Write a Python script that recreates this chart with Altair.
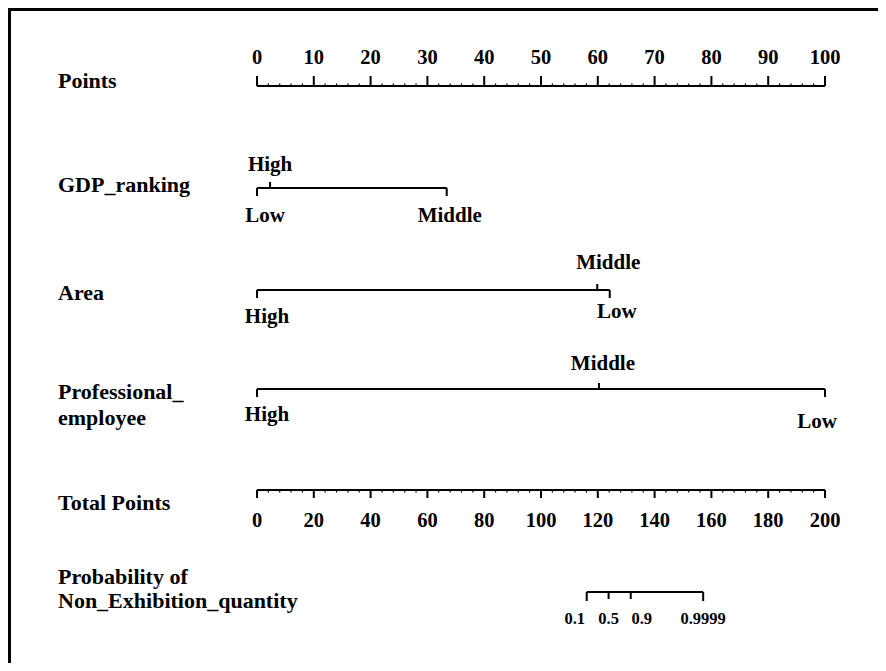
import altair as alt
import pandas as pd

# ---------------- data ----------------
POINTS_TICKS = [0, 10, 20, 30, 40, 50, 60, 70, 80, 90, 100]
TOTAL_TICKS = [0, 20, 40, 60, 80, 100, 120, 140, 160, 180, 200]

GDP_CATS = ["Low", "High", "Middle"]
GDP_PTS = [0, 2.3, 33.4]

AREA_CATS = ["High", "Middle", "Low"]
AREA_PTS = [0, 59.9, 62.1]

PROF_CATS = ["High", "Middle", "Low"]
PROF_PTS = [0, 60.2, 100]

PROB_LABELS = ["0.1", "0.5", "0.9", "0.9999"]
PROB_TOTAL = [116.1, 123.8, 131.6, 157.1]

ROW_LABELS = ["Points", "GDP_ranking", "Area", "Professional_", "employee",
              "Total Points", "Probability of", "Non_Exhibition_quantity"]

# ---------------- layout ----------------
W, H = 870, 655
X0, X1 = 249, 817
FONT = "Liberation Serif"
ROW_LABEL_Y = [73, 177, 285, 384, 410, 495, 569, 593]

POINTS_LINE_Y = 78
TOTAL_LINE_Y = 482
PROB_LINE_Y = 584

# (line y, {category: (dx, label y)})
CAT_LAYOUT = {
    "GDP": (180, {"Low": (8, 208), "High": (0, 157), "Middle": (3, 208)}),
    "Area": (282, {"High": (10, 309), "Middle": (11, 255), "Low": (7, 304)}),
    "Prof": (381, {"High": (10, 407), "Middle": (4, 356), "Low": (-8, 414)}),
}
PROB_DX = {"0.1": -12, "0.5": 0, "0.9": 11, "0.9999": 0}


def pscale():
    return alt.Scale(domain=[0, 100], range=[X0, X1], zero=False, nice=False)


def tscale():
    return alt.Scale(domain=[0, 200], range=[X0, X1], zero=False, nice=False)


def hline(a, b, y, scale, sw=2):
    df = pd.DataFrame({"a": [a], "b": [b]})
    return alt.Chart(df).mark_rule(color="black", strokeWidth=sw).encode(
        x=alt.X("a:Q", scale=scale, axis=None),
        x2="b:Q",
        y=alt.value(y),
    )


def ticks(values, y1, y2, scale, sw=2):
    df = pd.DataFrame({"v": values})
    return alt.Chart(df).mark_rule(color="black", strokeWidth=sw).encode(
        x=alt.X("v:Q", scale=scale, axis=None),
        y=alt.value(y1),
        y2=alt.value(y2),
    )


def labels(values, texts, y, scale, size, dx=0):
    df = pd.DataFrame({"v": values, "t": texts})
    return alt.Chart(df).mark_text(
        font=FONT, fontWeight="bold", fontSize=size, color="black",
        align="center", baseline="middle", dx=dx,
    ).encode(
        x=alt.X("v:Q", scale=scale, axis=None),
        y=alt.value(y),
        text="t:N",
    )


layers = []

# frame (top and left edge)
one = pd.DataFrame({"k": [0]})
layers.append(alt.Chart(one).mark_rule(color="black", strokeWidth=3).encode(
    x=alt.value(0), x2=alt.value(W), y=alt.value(1.5)))
layers.append(alt.Chart(one).mark_rule(color="black", strokeWidth=3).encode(
    x=alt.value(1.5), y=alt.value(0), y2=alt.value(H)))

# row labels
for lab, yy in zip(ROW_LABELS, ROW_LABEL_Y):
    layers.append(alt.Chart(pd.DataFrame({"t": [lab]})).mark_text(
        font=FONT, fontWeight="bold", fontSize=22, color="black",
        align="left", baseline="middle",
    ).encode(x=alt.value(50), y=alt.value(yy), text="t:N"))

# Points axis
p_minor = [v for v in range(0, 101, 2) if v % 10]
layers.append(hline(0, 100, POINTS_LINE_Y, pscale()))
layers.append(ticks(POINTS_TICKS, POINTS_LINE_Y - 10, POINTS_LINE_Y, pscale()))
layers.append(ticks(p_minor, POINTS_LINE_Y - 2.5, POINTS_LINE_Y, pscale(), sw=1.2))
layers.append(labels(POINTS_TICKS, [str(v) for v in POINTS_TICKS],
                     POINTS_LINE_Y - 28, pscale(), 20.5))

# categorical variables
for key, cats, pts in [("GDP", GDP_CATS, GDP_PTS),
                       ("Area", AREA_CATS, AREA_PTS),
                       ("Prof", PROF_CATS, PROF_PTS)]:
    ly, lay = CAT_LAYOUT[key]
    lo, hi = min(pts), max(pts)
    layers.append(hline(lo, hi, ly, pscale()))
    ends = [p for p in pts if p in (lo, hi)]
    mids = [p for p in pts if p not in (lo, hi)]
    layers.append(ticks(ends, ly, ly + 8, pscale()))
    if mids:
        layers.append(ticks(mids, ly - 6, ly, pscale()))
    for c, p in zip(cats, pts):
        dx, yy = lay[c]
        layers.append(labels([p], [c], yy, pscale(), 21, dx=dx))

# Total points axis
t_minor = [v for v in range(0, 201, 4) if v % 20]
layers.append(hline(0, 200, TOTAL_LINE_Y, tscale()))
layers.append(ticks(TOTAL_TICKS, TOTAL_LINE_Y, TOTAL_LINE_Y + 8, tscale()))
layers.append(ticks(t_minor, TOTAL_LINE_Y, TOTAL_LINE_Y + 2.5, tscale(), sw=1.2))
layers.append(labels(TOTAL_TICKS, [str(v) for v in TOTAL_TICKS],
                     TOTAL_LINE_Y + 31, tscale(), 20.5))

# Probability axis
layers.append(hline(min(PROB_TOTAL), max(PROB_TOTAL), PROB_LINE_Y, tscale()))
layers.append(ticks([PROB_TOTAL[0], PROB_TOTAL[-1]], PROB_LINE_Y, PROB_LINE_Y + 9, tscale()))
layers.append(ticks(PROB_TOTAL[1:-1], PROB_LINE_Y, PROB_LINE_Y + 7, tscale()))
for lab, v in zip(PROB_LABELS, PROB_TOTAL):
    layers.append(labels([v], [lab], PROB_LINE_Y + 27, tscale(), 16.5, dx=PROB_DX[lab]))

chart = alt.layer(*layers).resolve_scale(x="independent").properties(
    width=W, height=H,
    autosize=alt.AutoSizeParams(type="none"),
    padding=0,
    background="white",
).configure_view(stroke=None)

chart.save("out.html", embed_options={"renderer": "svg", "actions": False})
